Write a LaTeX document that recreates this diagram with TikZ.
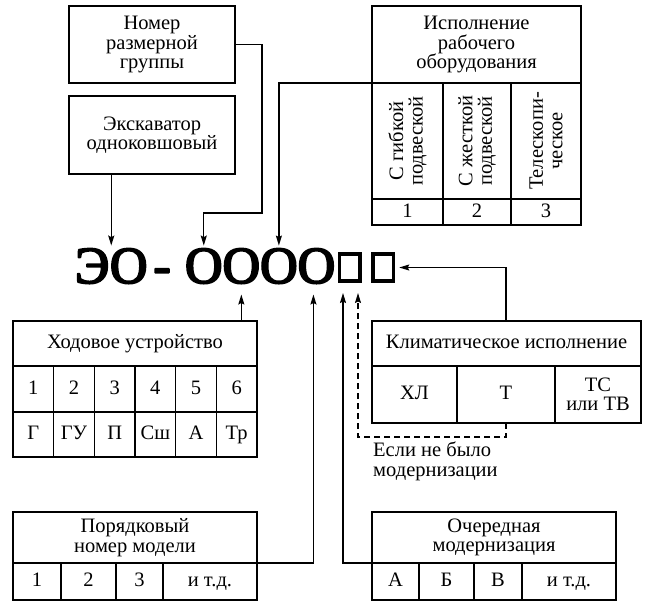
\documentclass[tikz,border=0pt]{standalone}
\usepackage{fontspec}
\setmainfont{Liberation Serif}
\usetikzlibrary{arrows.meta}
\usetikzlibrary{positioning}
\newcommand{\boxfont}{\fontsize{20.5}{19.5}\selectfont}
\newcommand{\codefont}{\fontsize{52}{52}\selectfont}
% heavier strokes for the index letters
\newcommand{\heavy}[1]{\special{pdf:literal direct 2 Tr 2 w 1 j}#1\special{pdf:literal direct 0 Tr}}
\tikzset{
  % framed block or table cell
  box/.style = {
    draw = black,
    line width = 1.3pt,
    inner sep = 0pt,
    outer sep = 0pt,
    align = center,
    font = \boxfont
  },
  cell/.style 2 args = {
    box,
    minimum width = #1,
    minimum height = #2
  },
  % one line of text, kept on one baseline
  row/.style 2 args = {
    cell = {#1}{#2},
    text height = 14pt,
    text depth = 4pt
  },
  % text turned upright in a cell
  turned/.style = {
    rotate = 90,
    align = center,
    font = \boxfont,
    inner sep = 0pt
  },
  % letters of the index
  code/.style = {
    font = \codefont,
    inner sep = 0pt,
    outer sep = 0pt
  },
  slot/.style = {
    draw = black,
    line width = 3.5pt,
    minimum width = 20.5pt,
    minimum height = 27pt,
    inner sep = 0pt,
    outer sep = 0pt
  },
  note/.style = {
    align = left,
    font = \boxfont,
    inner sep = 0pt
  },
  arr/.style = {
    line width = 1.3pt,
    -{Stealth[length=10pt,width=6pt,inset=1.5pt]}
  },
  darr/.style = {
    arr,
    dash pattern = on 6pt off 4pt
  }
}
\begin{document}
\begin{tikzpicture}[x=1pt,y=-1pt]
  \useasboundingbox (0,0) rectangle (650,614);

  % index
  \node[code, anchor=base west] (eo) at (75,283) {\heavy{ЭО}};
  \node[code, anchor=base] (dash) at (162,283) {\heavy{-}};
  \node[code, anchor=base west] (o1) at (185,283) {\heavy{О}};
  \node[code, right=0pt of o1] (o2) {\heavy{О}};
  \node[code, right=0pt of o2] (o3) {\heavy{О}};
  \node[code, right=0pt of o3] (o4) {\heavy{О}};
  \node[slot] (sq1) at (349.5,267.5) {};
  \node[slot] (sq2) at (383,267.5) {};

  % blocks above
  \node[cell={166pt}{77pt}, anchor=north west] (nomer) at (69,6) {Номер\\размерной\\группы};
  \node[cell={166pt}{78pt}, anchor=north west] (ekskav) at (69,96) {Экскаватор\\одноковшовый};

  \node[cell={209pt}{77pt}, anchor=north west] (isphead) at (372,6) {Исполнение\\рабочего\\оборудования};
  \node[cell={71pt}{116pt}, below right=0pt of isphead.south west] (isp1) {};
  \node[cell={68pt}{116pt}, right=0pt of isp1] (isp2) {};
  \node[cell={70pt}{116pt}, right=0pt of isp2] (isp3) {};
  \node[turned] (isp1t) at (isp1) {С гибкой\\подвеской};
  \node[turned] (isp2t) at (isp2) {С жесткой\\подвеской};
  \node[turned] (isp3t) at (isp3) {Телескопи-\\ческое};
  \node[row={71pt}{26pt}, below=0pt of isp1] (ispn1) {1};
  \node[row={68pt}{26pt}, below=0pt of isp2] (ispn2) {2};
  \node[row={70pt}{26pt}, below=0pt of isp3] (ispn3) {3};

  % blocks below
  \node[row={244pt}{45pt}, anchor=north west] (hodhead) at (13,321) {Ходовое устройство};
  \foreach \n/\t [count=\i] in {1/Г,2/ГУ,3/П,4/Сш,5/А,6/Тр}
  {
    \node[row={40.67pt}{46pt}, anchor=north west] (hodn\i) at ({13+(\i-1)*40.67},366) {\n};
    \node[row={40.67pt}{45pt}, below=0pt of hodn\i] (hodt\i) {\t};
  }

  \node[cell={244pt}{51pt}, anchor=north west] (porhead) at (13,512) {Порядковый\\номер модели};
  \node[row={48pt}{37pt}, below right=0pt of porhead.south west] (por1) {1};
  \node[row={55pt}{37pt}, right=0pt of por1] (por2) {2};
  \node[row={47pt}{37pt}, right=0pt of por2] (por3) {3};
  \node[row={94pt}{37pt}, right=0pt of por3] (por4) {и т.д.};

  \node[row={269pt}{45pt}, anchor=north west] (klimhead) at (372,321) {Климатическое исполнение};
  \node[row={85pt}{57pt}, below right=0pt of klimhead.south west] (klim1) {ХЛ};
  \node[row={98pt}{57pt}, right=0pt of klim1] (klim2) {Т};
  \node[cell={86pt}{57pt}, right=0pt of klim2] (klim3) {ТС\\или ТВ};

  \node[note, anchor=north west] (esli) at (373,442) {Если не было\\модернизации};

  \node[cell={244pt}{51pt}, anchor=north west] (ochhead) at (372,512) {Очередная\\модернизация};
  \node[row={47pt}{37pt}, below right=0pt of ochhead.south west] (och1) {А};
  \node[row={55pt}{37pt}, right=0pt of och1] (och2) {Б};
  \node[row={48pt}{37pt}, right=0pt of och2] (och3) {В};
  \node[row={94pt}{37pt}, right=0pt of och3] (och4) {и т.д.};

  % connectors
  \coordinate (nomerbend) at (262,213);
  \draw[arr] (eo.north |- ekskav.south) -- ([yshift=3pt]eo.north);
  \draw[arr] (nomer.east) -| (nomerbend) -| ([yshift=3pt]o1.north);
  \draw[arr] (isphead.south west) -| ([yshift=3pt]o3.north);
  \draw[arr] (hodhead.north -| o2) -- ([yshift=-11pt]o2.south);
  \draw[arr] (porhead.south east) -| ([xshift=-3pt,yshift=-11pt]o4.south);
  \draw[arr] (ochhead.south west) -| ([xshift=-6.5pt,yshift=-12pt]sq1.south);
  \draw[darr] (klim2.south) -- ++(0,14) -| ([xshift=8.5pt,yshift=-12pt]sq1.south);
  \draw[arr] (klimhead.north -| klim2) |- ([xshift=6pt]sq2.east);
\end{tikzpicture}
\end{document}
